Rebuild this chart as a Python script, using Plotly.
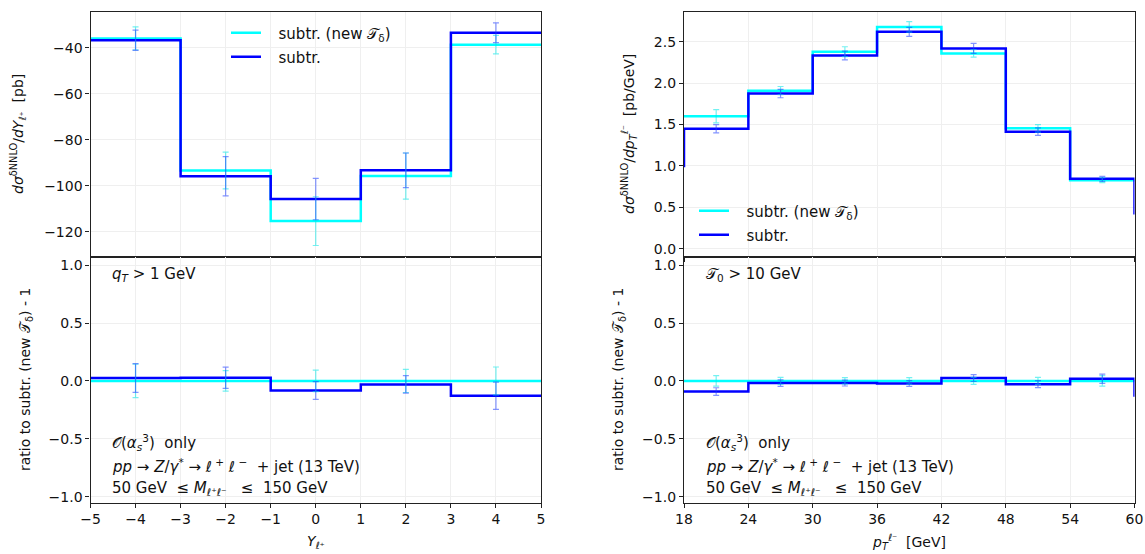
import plotly.graph_objects as go

# ---------------- data ----------------
Y_edges = [-5, -3, -1, 1, 3, 5]
Y_new = [-36.0, -93.4, -115.4, -95.8, -38.7]
Y_new_err = [5.0, 8.0, 10.6, 10.0, 4.0]
Y_sub = [-36.8, -95.9, -105.8, -93.3, -33.5]
Y_sub_err = [4.4, 8.5, 9.0, 7.5, 4.3]
Y_ratio_new = [0.0, 0.0, 0.0, 0.0, 0.0]
Y_ratio_new_err = [0.145, 0.088, 0.093, 0.10, 0.12]
Y_ratio_sub = [0.025, 0.027, -0.083, -0.030, -0.128]
Y_ratio_sub_err = [0.124, 0.092, 0.077, 0.075, 0.117]

pt_edges = [18, 24, 30, 36, 42, 48, 54, 60]
pt_new = [1.60, 1.91, 2.38, 2.68, 2.36, 1.454, 0.828]
pt_new_err = [0.08, 0.05, 0.06, 0.063, 0.045, 0.045, 0.03]
pt_sub = [1.45, 1.874, 2.334, 2.62, 2.42, 1.414, 0.844]
pt_sub_err = [0.05, 0.05, 0.053, 0.055, 0.06, 0.045, 0.03]
pt_ratio_new = [0.0, 0.0, 0.0, 0.0, 0.0, 0.0, 0.0]
pt_ratio_new_err = [0.045, 0.03, 0.028, 0.028, 0.03, 0.03, 0.045]
pt_ratio_sub = [-0.092, -0.019, -0.019, -0.022, 0.025, -0.028, 0.019]
pt_ratio_sub_err = [0.033, 0.028, 0.025, 0.025, 0.03, 0.03, 0.04]
# neighbouring bins just outside the plotted pT range (only their edges show)
pt_sub_outer = (12, 1.0, 66, 0.43)
pt_ratio_sub_outer = (66, -0.125)

CYAN = "#00ffff"
BLUE = "#0000ff"
CYAN_ERR = "rgba(0,230,230,0.55)"
BLUE_ERR = "rgba(30,60,255,0.55)"
FONT = "DejaVu Sans"
FS = 14
FT = 15

W, H = 1145, 554
xL = [90.5 / W, 541 / W]
xR = [684 / W, 1134.5 / W]
yT = [1 - 257 / H, 1 - 12 / H]
yB = [1 - 502.5 / H, 1 - 257 / H]

fig = go.Figure()


def centers(edges):
    return [(edges[i] + edges[i + 1]) / 2 for i in range(len(edges) - 1)]


def step(edges, vals, xa, ya, color, name, legend=None, pre=None, post=None):
    xs = list(edges)
    ys = list(vals) + [vals[-1]]
    if pre is not None:
        xs = [pre[0]] + xs
        ys = [pre[1]] + ys
    if post is not None:
        xs = xs + [post[0]]
        ys = ys[:-1] + [post[1], post[1]]
    fig.add_trace(go.Scatter(
        x=xs, y=ys, mode="lines", line=dict(shape="hv", color=color, width=2.5),
        xaxis=xa, yaxis=ya, name=name, showlegend=legend is not None,
        legend=legend if legend else "legend", hoverinfo="skip"))


def errs(edges, vals, err, xa, ya, color):
    fig.add_trace(go.Scatter(
        x=centers(edges), y=vals, mode="markers", marker=dict(size=0.1, color="rgba(0,0,0,0)"),
        error_y=dict(type="data", array=err, color=color, thickness=1.2, width=3),
        xaxis=xa, yaxis=ya, showlegend=False, hoverinfo="skip"))


T_DELTA = "𝒯<sub>δ</sub>"
PAD = "\u00a0\u00a0\u2009"
NEW = PAD + "subtr. (new " + T_DELTA + ")"
SUB = PAD + "subtr."

# top-left
step(Y_edges, Y_new, "x", "y", CYAN, NEW, legend="legend")
step(Y_edges, Y_sub, "x", "y", BLUE, SUB, legend="legend2")
errs(Y_edges, Y_new, Y_new_err, "x", "y", CYAN_ERR)
errs(Y_edges, Y_sub, Y_sub_err, "x", "y", BLUE_ERR)
# bottom-left
step(Y_edges, Y_ratio_new, "x2", "y2", CYAN, NEW)
step(Y_edges, Y_ratio_sub, "x2", "y2", BLUE, SUB)
errs(Y_edges, Y_ratio_new, Y_ratio_new_err, "x2", "y2", CYAN_ERR)
errs(Y_edges, Y_ratio_sub, Y_ratio_sub_err, "x2", "y2", BLUE_ERR)
# top-right
step(pt_edges, pt_new, "x3", "y3", CYAN, NEW, legend="legend3")
step(pt_edges, pt_sub, "x3", "y3", BLUE, SUB, legend="legend4",
     pre=(pt_sub_outer[0], pt_sub_outer[1]), post=(pt_sub_outer[2], pt_sub_outer[3]))
errs(pt_edges, pt_new, pt_new_err, "x3", "y3", CYAN_ERR)
errs(pt_edges, pt_sub, pt_sub_err, "x3", "y3", BLUE_ERR)
# bottom-right
step(pt_edges, pt_ratio_new, "x4", "y4", CYAN, NEW)
step(pt_edges, pt_ratio_sub, "x4", "y4", BLUE, SUB, post=pt_ratio_sub_outer)
errs(pt_edges, pt_ratio_new, pt_ratio_new_err, "x4", "y4", CYAN_ERR)
errs(pt_edges, pt_ratio_sub, pt_ratio_sub_err, "x4", "y4", BLUE_ERR)

ax_common = dict(showline=True, linecolor="#222", linewidth=1.2, mirror=True,
                 ticks="outside", ticklen=4, tickwidth=1, tickcolor="#222",
                 showgrid=True, gridcolor="#efefef", gridwidth=1, zeroline=False,
                 automargin=False,
                 tickfont=dict(family=FONT, size=FS, color="#111"))

fig.update_layout(
    template="none",
    width=W, height=H, margin=dict(l=0, r=0, t=0, b=0, pad=0),
    paper_bgcolor="white", plot_bgcolor="white",
    font=dict(family=FONT, size=FS, color="#111"),
    xaxis=dict(domain=xL, anchor="y", range=[-5, 5], dtick=1, showticklabels=False, **ax_common),
    yaxis=dict(domain=yT, anchor="x", range=[-131, -24.5], tickvals=[-120, -100, -80, -60, -40], **ax_common),
    xaxis2=dict(domain=xL, anchor="y2", range=[-5, 5], dtick=1, **ax_common),
    yaxis2=dict(domain=yB, anchor="x2", range=[-1.05, 1.07], tickvals=[-1, -0.5, 0, 0.5, 1], tickformat=".1f", **ax_common),
    xaxis3=dict(domain=xR, anchor="y3", range=[18, 60], dtick=6, showticklabels=False, **ax_common),
    yaxis3=dict(domain=yT, anchor="x3", range=[-0.1, 2.86], tickvals=[0, 0.5, 1, 1.5, 2, 2.5], tickformat=".1f", **ax_common),
    xaxis4=dict(domain=xR, anchor="y4", range=[18, 60], dtick=6, **ax_common),
    yaxis4=dict(domain=yB, anchor="x4", range=[-1.05, 1.07], tickvals=[-1, -0.5, 0, 0.5, 1], tickformat=".1f", **ax_common),
)

leg_common = dict(bgcolor="rgba(0,0,0,0)", borderwidth=0, font=dict(family=FONT, size=FT),
                  xanchor="left", yanchor="middle", itemwidth=30)
fig.update_layout(
    legend=dict(x=226 / W, y=1 - 33 / H, **leg_common),
    legend2=dict(x=226 / W, y=1 - 57 / H, **leg_common),
    legend3=dict(x=694 / W, y=1 - 211 / H, **leg_common),
    legend4=dict(x=694 / W, y=1 - 235 / H, **leg_common),
)

ann = []


def note(text, x, y, xref="paper", yref="paper", angle=0, xanchor="left", yanchor="middle", size=FT):
    ann.append(dict(text=text, x=x, y=y, xref=xref, yref=yref, showarrow=False,
                    textangle=angle, xanchor=xanchor, yanchor=yanchor,
                    font=dict(family=FONT, size=size, color="#111")))


# axis titles
note("<i>dσ</i><sup>δNNLO</sup>/<i>dY</i><sub>ℓ⁺</sub>  [pb]", 18 / W, 1 - 134 / H, angle=-90, xanchor="center", size=FS)
note("ratio to subtr. (new " + T_DELTA + ") - 1", 26 / W, 1 - 380 / H, angle=-90, xanchor="center", size=FS)
note("<i>dσ</i><sup>δNNLO</sup>/<i>dp</i><sub><i>T</i></sub><sup>ℓ⁻</sup>  [pb/GeV]", 629 / W, 1 - 134 / H, angle=-90, xanchor="center", size=FS)
note("ratio to subtr. (new " + T_DELTA + ") - 1", 619 / W, 1 - 380 / H, angle=-90, xanchor="center", size=FS)
note("<i>Y</i><sub>ℓ⁺</sub>", 316 / W, 1 - 542 / H, xanchor="center", size=FS)
note("<i>p</i><sub><i>T</i></sub><sup>ℓ⁻</sup>  [GeV]", 909 / W, 1 - 542 / H, xanchor="center", size=FS)

# in-panel texts
NB = "\u00a0"
proc = [
    "𝒪(<i>α</i><sub><i>s</i></sub><sup>3</sup>)" + NB + NB + "only",
    "<i>pp</i>" + NB + "→" + NB + "<i>Z</i>/<i>γ</i><sup>*</sup>" + NB + "→" + NB + "ℓ<sup>" + NB + "+</sup>"
    + NB + "ℓ<sup>" + NB + "−</sup>" + NB + NB + "+" + NB + "jet (13 TeV)",
    "50 GeV" + NB + NB + "≤" + NB + "<i>M</i><sub>ℓ⁺ℓ⁻</sub>" + NB + NB + NB + "≤" + NB + NB + "150 GeV",
]
ys = [0.243, 0.149, 0.055]
for xa in ["x2", "x4"]:
    for t, yv in zip(proc, ys):
        note(t, 0.044, yv, xref=xa + " domain", yref=xa.replace("x", "y") + " domain")
note("<i>q</i><sub><i>T</i></sub> > 1 GeV", 0.044, 0.927, xref="x2 domain", yref="y2 domain")
note("𝒯<sub>0</sub> > 10 GeV", 0.044, 0.927, xref="x4 domain", yref="y4 domain")

fig.update_layout(annotations=ann)
fig.write_html("out.html")
